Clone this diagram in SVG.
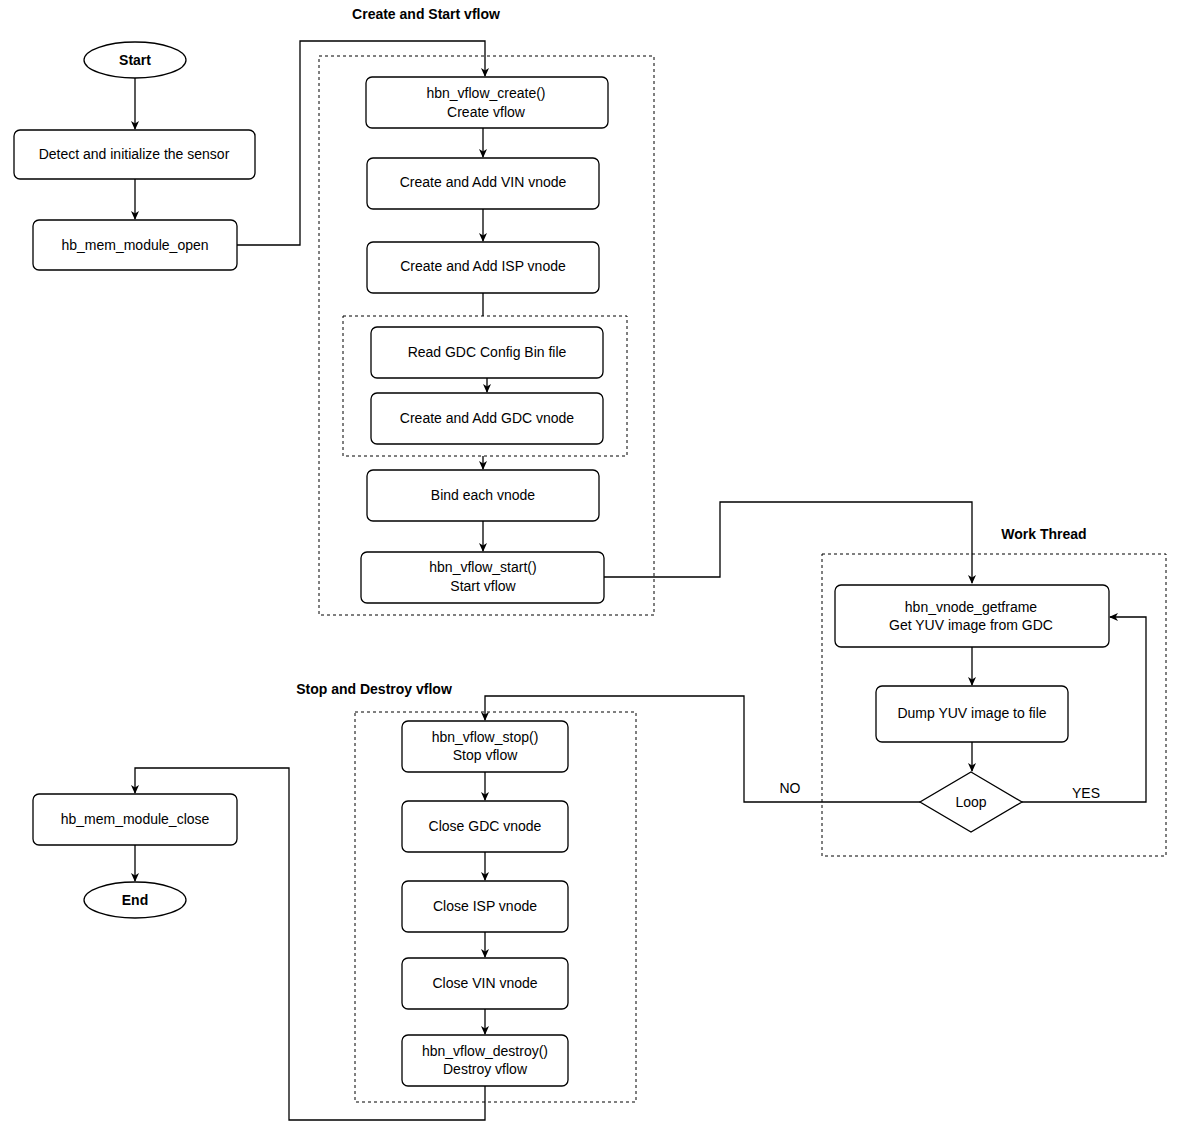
<svg xmlns="http://www.w3.org/2000/svg" width="1197" height="1135" viewBox="0 0 1197 1135">
<style>
.b{fill:#fff;stroke:#000;stroke-width:1.3}
.d{fill:none;stroke:#000;stroke-width:1;stroke-dasharray:3 3}
.c{fill:none;stroke:#000;stroke-width:1.3}
text{font-family:"Liberation Sans",Arial,sans-serif;font-size:14px;text-anchor:middle;fill:#000}
.t{font-weight:bold}
</style>
<defs><marker id="a" markerWidth="10" markerHeight="10" refX="8" refY="5" orient="auto" markerUnits="userSpaceOnUse"><path d="M0,1 L9,5 L0,9 L2.5,5 Z" fill="#000"/></marker></defs>
<rect width="1197" height="1135" fill="#fff"/>
<g id="containers">
<rect class="d" x="319" y="56" width="335" height="559"/>
<rect class="d" x="343" y="316" width="284" height="140"/>
<rect class="d" x="822" y="554" width="344" height="302"/>
<rect class="d" x="355" y="712" width="281" height="390"/>
<text class="t" x="426" y="19">Create and Start vflow</text>
<text class="t" x="1044" y="539">Work Thread</text>
<text class="t" x="374" y="694">Stop and Destroy vflow</text>
</g>
<g id="connectors">
<path class="c" d="M135,78 V129" marker-end="url(#a)"/>
<path class="c" d="M135,179 V219" marker-end="url(#a)"/>
<path class="c" d="M237,245 H300 V41 H485 V76" marker-end="url(#a)"/>
<path class="c" d="M483,128 V157" marker-end="url(#a)"/>
<path class="c" d="M483,209 V241" marker-end="url(#a)"/>
<path class="c" d="M483,293 V316"/>
<path class="c" d="M487,378 V392" marker-end="url(#a)"/>
<path class="c" d="M483,456 V469" marker-end="url(#a)"/>
<path class="c" d="M483,521 V551" marker-end="url(#a)"/>
<path class="c" d="M604,577 H720 V502 H972 V583" marker-end="url(#a)"/>
<path class="c" d="M972,647 V685" marker-end="url(#a)"/>
<path class="c" d="M972,742 V771" marker-end="url(#a)"/>
<path class="c" d="M1022,802 H1146 V617 H1110" marker-end="url(#a)"/>
<path class="c" d="M920,802 H744 V696 H485 V720" marker-end="url(#a)"/>
<path class="c" d="M485,772 V800" marker-end="url(#a)"/>
<path class="c" d="M485,852 V880" marker-end="url(#a)"/>
<path class="c" d="M485,932 V957" marker-end="url(#a)"/>
<path class="c" d="M485,1009 V1034" marker-end="url(#a)"/>
<path class="c" d="M485,1086 V1120 H289 V768 H135 V793" marker-end="url(#a)"/>
<path class="c" d="M135,845 V881" marker-end="url(#a)"/>
<text x="790" y="793">NO</text>
<text x="1086" y="798">YES</text>
</g>
<g id="start"><ellipse class="b" cx="135" cy="60" rx="51" ry="18"/><text class="t" x="135" y="65">Start</text></g>
<g id="detect"><rect class="b" x="14" y="130" width="241" height="49" rx="6"/><text x="134" y="159">Detect and initialize the sensor</text></g>
<g id="memopen"><rect class="b" x="33" y="220" width="204" height="50" rx="6"/><text x="135" y="250">hb_mem_module_open</text></g>
<g id="create"><rect class="b" x="366" y="77" width="242" height="51" rx="6"/><text x="486" y="98">hbn_vflow_create()</text><text x="486" y="117">Create vflow</text></g>
<g id="vin"><rect class="b" x="367" y="158" width="232" height="51" rx="6"/><text x="483" y="187">Create and Add VIN vnode</text></g>
<g id="isp"><rect class="b" x="367" y="242" width="232" height="51" rx="6"/><text x="483" y="271">Create and Add ISP vnode</text></g>
<g id="readgdc"><rect class="b" x="371" y="327" width="232" height="51" rx="6"/><text x="487" y="357">Read GDC Config Bin file</text></g>
<g id="gdc"><rect class="b" x="371" y="393" width="232" height="51" rx="6"/><text x="487" y="423">Create and Add GDC vnode</text></g>
<g id="bind"><rect class="b" x="367" y="470" width="232" height="51" rx="6"/><text x="483" y="500">Bind each vnode</text></g>
<g id="vstart"><rect class="b" x="361" y="552" width="243" height="51" rx="6"/><text x="483" y="572">hbn_vflow_start()</text><text x="483" y="591">Start vflow</text></g>
<g id="getframe"><rect class="b" x="835" y="585" width="274" height="62" rx="6"/><text x="971" y="612">hbn_vnode_getframe</text><text x="971" y="630">Get YUV image from  GDC</text></g>
<g id="dump"><rect class="b" x="876" y="686" width="192" height="56" rx="6"/><text x="972" y="718">Dump YUV image to file</text></g>
<g id="loop"><path class="b" d="M971,772 L1022,802 L971,832 L920,802 Z"/><text x="971" y="807">Loop</text></g>
<g id="stop"><rect class="b" x="402" y="721" width="166" height="51" rx="6"/><text x="485" y="742">hbn_vflow_stop()</text><text x="485" y="760">Stop vflow</text></g>
<g id="cgdc"><rect class="b" x="402" y="801" width="166" height="51" rx="6"/><text x="485" y="831">Close GDC vnode</text></g>
<g id="cisp"><rect class="b" x="402" y="881" width="166" height="51" rx="6"/><text x="485" y="911">Close ISP vnode</text></g>
<g id="cvin"><rect class="b" x="402" y="958" width="166" height="51" rx="6"/><text x="485" y="988">Close VIN vnode</text></g>
<g id="destroy"><rect class="b" x="402" y="1035" width="166" height="51" rx="6"/><text x="485" y="1056">hbn_vflow_destroy()</text><text x="485" y="1074">Destroy vflow</text></g>
<g id="memclose"><rect class="b" x="33" y="794" width="204" height="51" rx="6"/><text x="135" y="824">hb_mem_module_close</text></g>
<g id="end"><ellipse class="b" cx="135" cy="900" rx="51" ry="18"/><text class="t" x="135" y="905">End</text></g>
</svg>
